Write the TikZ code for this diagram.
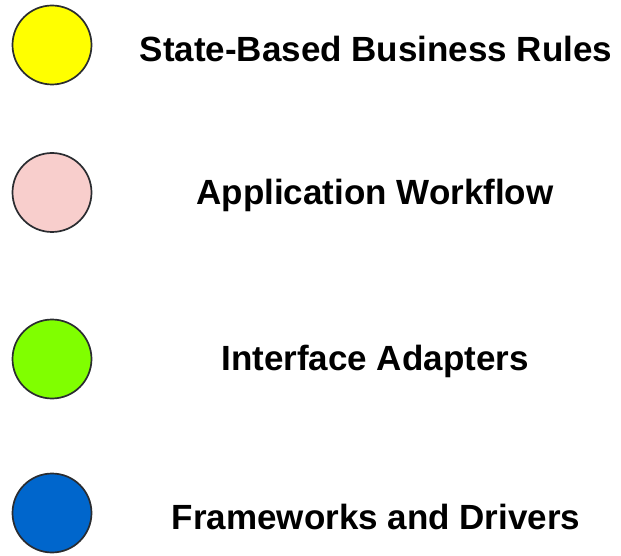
\documentclass[tikz,border=0pt]{standalone}
\usepackage{fontspec}
\setmainfont{Liberation Sans}
\definecolor{cyellow}{HTML}{FFFF00}
\definecolor{cpink}{HTML}{F8CECC}
\definecolor{cgreen}{HTML}{80FF00}
\definecolor{cblue}{HTML}{0066CC}
\definecolor{cstroke}{HTML}{2A2C30}
\begin{document}
\begin{tikzpicture}[x=1pt,y=1pt,
  dot/.style={circle,draw=cstroke,line width=1.7pt,minimum size=79pt,inner sep=0pt},
  lbl/.style={font=\bfseries\fontsize{35}{40}\selectfont,inner sep=0pt}]
\useasboundingbox (0,0) rectangle (621,555);
\node[dot,fill=cyellow] (c1) at (52,510) {};
\node[dot,fill=cpink] (c2) at (52,362.5) {};
\node[dot,fill=cgreen] (c3) at (52,196) {};
\node[dot,fill=cblue] (c4) at (52,42) {};
\node[lbl] (t1) at (376,506) {State-Based Business Rules};
\node[lbl] (t2) at (375,360) {Application Workflow};
\node[lbl] (t3) at (375,194) {Interface Adapters};
\node[lbl] (t4) at (376,38) {Frameworks and Drivers};
\end{tikzpicture}
\end{document}
